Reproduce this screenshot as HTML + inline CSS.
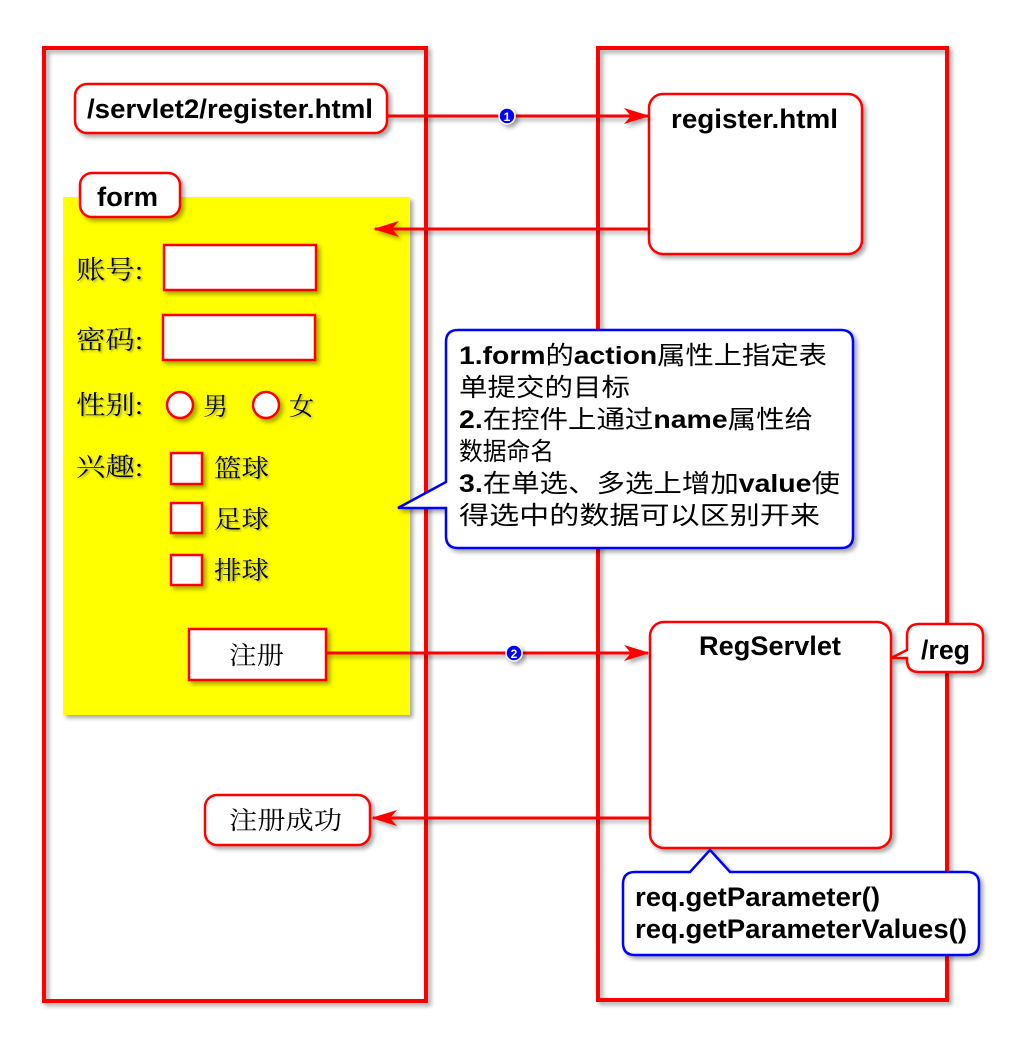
<!DOCTYPE html>
<html><head><meta charset="utf-8">
<style>
html,body{margin:0;padding:0;background:#fff;}
svg{display:block;}
.b{font-family:"Liberation Sans","Noto Sans CJK SC",sans-serif;font-weight:bold;fill:#000;}
.s{font-family:"Liberation Serif","Noto Serif CJK SC",serif;fill:#000;}
.c{font-family:"Liberation Sans","Noto Sans CJK SC",sans-serif;fill:#000;}
</style></head>
<body>
<svg width="1024" height="1044" viewBox="0 0 1024 1044" xmlns="http://www.w3.org/2000/svg">
<defs>
<filter id="sh" x="-10%" y="-10%" width="130%" height="130%">
<feDropShadow dx="3" dy="3" stdDeviation="2" flood-color="#000" flood-opacity="0.35"/>
</filter>
<filter id="ts" x="-10%" y="-10%" width="130%" height="130%">
<feDropShadow dx="1.5" dy="1.5" stdDeviation="1" flood-color="#666" flood-opacity="0.6"/>
</filter>
<marker id="ar" markerWidth="26" markerHeight="16" refX="24" refY="8" orient="auto" markerUnits="userSpaceOnUse">
<path d="M0,0 L26,8 L0,16 L7,8 Z" fill="#f00"/>
</marker>
</defs>

<rect x="44" y="48" width="382" height="953" fill="none" stroke="#f00" stroke-width="4" filter="url(#sh)"/>
<rect x="598" y="48" width="349" height="952" fill="none" stroke="#f00" stroke-width="4" filter="url(#sh)"/>

<rect x="63" y="197" width="347" height="518" fill="#ff0" filter="url(#sh)"/>
<rect x="80" y="173" width="100" height="44" rx="12" fill="#fff" stroke="#f00" stroke-width="2.5" filter="url(#sh)"/>
<text x="97" y="206" class="b" font-size="27" textLength="61" lengthAdjust="spacingAndGlyphs">form</text>

<rect x="75" y="84" width="312" height="49" rx="12" fill="#fff" stroke="#f00" stroke-width="2.5" filter="url(#sh)"/>
<text x="87" y="118" class="b" font-size="27" textLength="286" lengthAdjust="spacingAndGlyphs">/servlet2/register.html</text>

<rect x="649" y="94" width="213" height="160" rx="14" fill="#fff" stroke="#f00" stroke-width="2.5" filter="url(#sh)"/>
<text x="671" y="128" class="b" font-size="27" textLength="167" lengthAdjust="spacingAndGlyphs">register.html</text>

<g filter="url(#ts)">
<text x="76" y="279" class="s" font-size="26" textLength="67" lengthAdjust="spacingAndGlyphs">账号:</text>
<text x="76" y="349" class="s" font-size="26" textLength="67" lengthAdjust="spacingAndGlyphs">密码:</text>
<text x="76" y="414" class="s" font-size="26" textLength="67" lengthAdjust="spacingAndGlyphs">性别:</text>
<text x="76" y="476" class="s" font-size="26" textLength="67" lengthAdjust="spacingAndGlyphs">兴趣:</text>
<text x="203" y="415" class="s" font-size="25">男</text>
<text x="289" y="415" class="s" font-size="25">女</text>
<text x="214" y="477" class="s" font-size="25" textLength="55" lengthAdjust="spacingAndGlyphs">篮球</text>
<text x="214" y="528" class="s" font-size="25" textLength="55" lengthAdjust="spacingAndGlyphs">足球</text>
<text x="214" y="579" class="s" font-size="25" textLength="55" lengthAdjust="spacingAndGlyphs">排球</text>
</g>
<g fill="#fff" stroke="#f00" stroke-width="2.5" filter="url(#sh)">
<rect x="164" y="245" width="152" height="45"/>
<rect x="163" y="315" width="152" height="45"/>
<circle cx="180" cy="405" r="13"/>
<circle cx="266" cy="405" r="13"/>
<rect x="171" y="453" width="31" height="31"/>
<rect x="171" y="503" width="31" height="30"/>
<rect x="171" y="555" width="31" height="30"/>
<rect x="189" y="629" width="137" height="51"/>
</g>
<text x="229" y="664" class="s" font-size="25" textLength="55" lengthAdjust="spacingAndGlyphs">注册</text>

<rect x="650" y="622" width="241" height="226" rx="14" fill="#fff" stroke="#f00" stroke-width="2.5" filter="url(#sh)"/>
<text x="699" y="655" class="b" font-size="27" textLength="142" lengthAdjust="spacingAndGlyphs">RegServlet</text>

<path d="M919,624 H971 Q983,624 983,636 V660 Q983,672 971,672 H919 Q907,672 907,660 V658 L891,658 L907,650 V636 Q907,624 919,624 Z" fill="#fff" stroke="#f00" stroke-width="2.5" filter="url(#sh)"/>
<text x="921" y="659" class="b" font-size="27" textLength="49" lengthAdjust="spacingAndGlyphs">/reg</text>

<rect x="205" y="795" width="165" height="50" rx="12" fill="#fff" stroke="#f00" stroke-width="2.5" filter="url(#sh)"/>
<text x="229" y="829" class="s" font-size="25" textLength="113" lengthAdjust="spacingAndGlyphs">注册成功</text>

<g stroke="#f00" stroke-width="3" fill="none" filter="url(#sh)">
<line x1="387" y1="116" x2="648" y2="116" marker-end="url(#ar)"/>
<line x1="649" y1="229" x2="375" y2="229" marker-end="url(#ar)"/>
<line x1="326" y1="653" x2="648" y2="653" marker-end="url(#ar)"/>
<line x1="649" y1="818" x2="373" y2="818" marker-end="url(#ar)"/>
</g>
<g filter="url(#sh)">
<circle cx="507" cy="116" r="8" fill="#00f" stroke="#fff" stroke-width="1.5"/>
<circle cx="514" cy="653" r="8" fill="#00f" stroke="#fff" stroke-width="1.5"/>
</g>
<text x="507" y="121" font-family="Liberation Sans,sans-serif" font-size="12" font-weight="bold" fill="#fff" text-anchor="middle">1</text>
<text x="514" y="658" font-family="Liberation Sans,sans-serif" font-size="12" font-weight="bold" fill="#fff" text-anchor="middle">2</text>

<path d="M458,330 H841 Q853,330 853,342 V536 Q853,548 841,548 H458 Q446,548 446,536 V508 L398,508 L446,482 V342 Q446,330 458,330 Z" fill="#fff" stroke="#00f" stroke-width="2.5" filter="url(#sh)"/>
<g class="c" font-size="25">
<text x="459" y="364" textLength="368" lengthAdjust="spacingAndGlyphs"><tspan font-weight="bold">1.form</tspan>的<tspan font-weight="bold">action</tspan>属性上指定表</text>
<text x="459" y="396" textLength="171" lengthAdjust="spacingAndGlyphs">单提交的目标</text>
<text x="459" y="428" textLength="354" lengthAdjust="spacingAndGlyphs"><tspan font-weight="bold">2.</tspan>在控件上通过<tspan font-weight="bold">name</tspan>属性给</text>
<text x="459" y="460" textLength="95" lengthAdjust="spacingAndGlyphs">数据命名</text>
<text x="459" y="492" textLength="381" lengthAdjust="spacingAndGlyphs"><tspan font-weight="bold">3.</tspan>在单选、多选上增加<tspan font-weight="bold">value</tspan>使</text>
<text x="459" y="524" textLength="361" lengthAdjust="spacingAndGlyphs">得选中的数据可以区别开来</text>
</g>

<path d="M635,872 H690 L710,850 L730,872 H967 Q979,872 979,884 V943 Q979,955 967,955 H635 Q623,955 623,943 V884 Q623,872 635,872 Z" fill="#fff" stroke="#00f" stroke-width="2.5" filter="url(#sh)"/>
<text x="635" y="906" class="b" font-size="27" textLength="245" lengthAdjust="spacingAndGlyphs">req.getParameter()</text>
<text x="635" y="938" class="b" font-size="27" textLength="332" lengthAdjust="spacingAndGlyphs">req.getParameterValues()</text>
</svg>
</body></html>
